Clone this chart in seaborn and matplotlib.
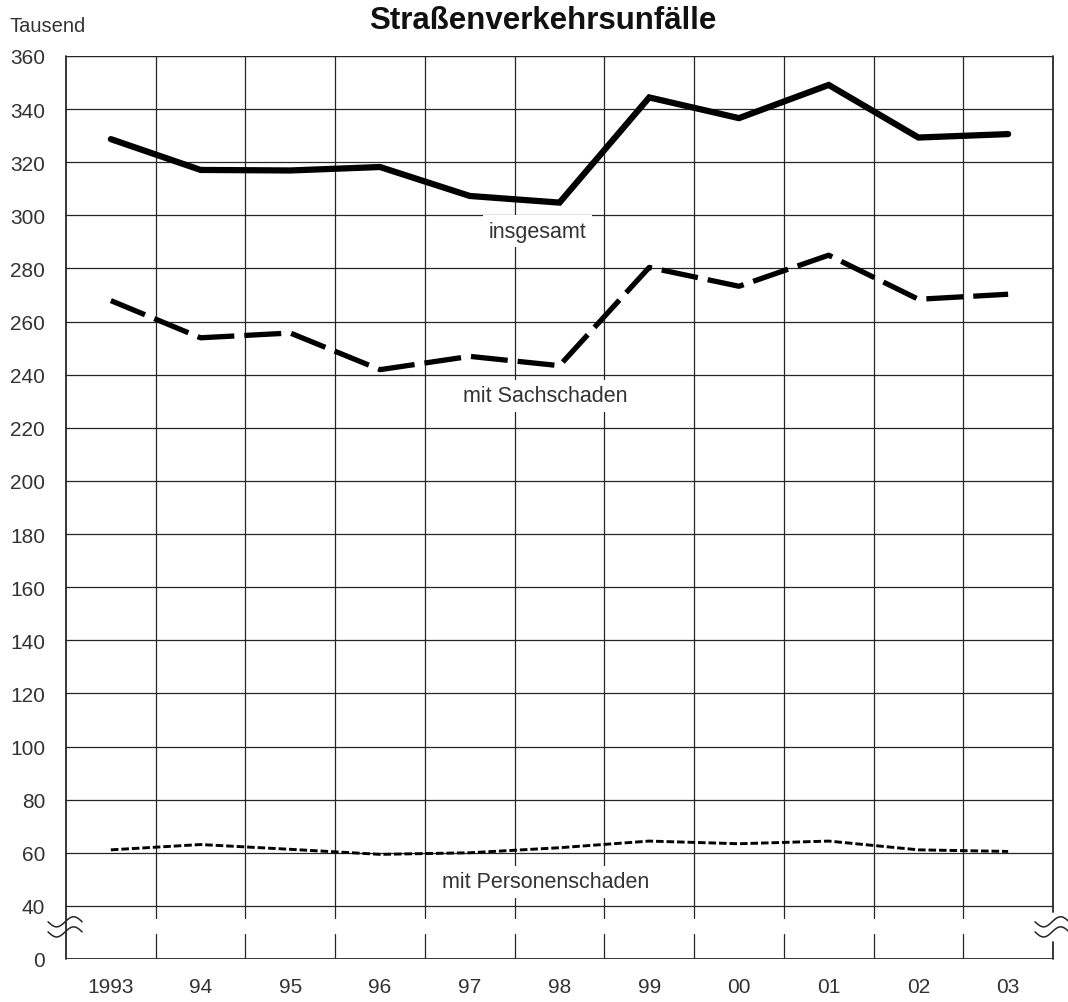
import numpy as np
import pandas as pd
import matplotlib
matplotlib.use("Agg")
import matplotlib.pyplot as plt
import seaborn as sns

# data (Tausend)
years = ['1993', '94', '95', '96', '97', '98', '99', '00', '01', '02', '03']
insgesamt = [328.7, 317.1, 316.9, 318.2, 307.3, 304.8, 344.4, 336.6, 349.1, 329.3, 330.6]
sachschaden = [267.9, 253.9, 255.7, 241.9, 246.9, 243.4, 280.4, 273.3, 285.0, 268.4, 270.3]
personenschaden = [61.1, 63.1, 61.3, 59.4, 60.0, 61.9, 64.4, 63.4, 64.4, 61.1, 60.5]
ytick_values = [0] + list(range(40, 361, 20))

BREAK = 20  # 0..40 is squeezed into the lower 20 units


def to_plot(v):
    v = np.asarray(v, dtype=float)
    return np.where(v >= 40, v - BREAK, v * 0)


sns.set_style("white")
plt.rcParams['font.family'] = ['Liberation Sans', 'DejaVu Sans']

fig = plt.figure(figsize=(10.68, 10.03), dpi=100)
ax = fig.add_axes([66 / 1068, 1 - 960 / 1003, 987 / 1068, 903 / 1003])

x = np.arange(len(years))
df = pd.DataFrame({'x': x,
                   'insgesamt': to_plot(insgesamt),
                   'sach': to_plot(sachschaden),
                   'personen': to_plot(personenschaden)})

ax.set_xlim(-0.5, len(years) - 0.5)
ax.set_ylim(0, 340)

# grid
gcol = '#262626'
for v in ytick_values[1:]:
    ax.axhline(to_plot(v), color=gcol, lw=0.9, zorder=1)
gap_lo, gap_hi = 9.4, 15.4
for xb in np.arange(0.5, len(years) - 1, 1.0):
    ax.plot([xb, xb], [0, gap_lo], color=gcol, lw=0.9, zorder=1)
    ax.plot([xb, xb], [gap_hi, 340], color=gcol, lw=0.9, zorder=1)

# spines with break on the right side
for s in ax.spines.values():
    s.set_visible(False)
ax.axhline(0, color=gcol, lw=1.3, zorder=2)
ax.axhline(340, color=gcol, lw=0.9, zorder=2)
ax.plot([-0.5, -0.5], [0, 340], color=gcol, lw=1.3, zorder=2, clip_on=False)
ax.plot([10.5, 10.5], [0, 6.4], color=gcol, lw=1.3, zorder=2, clip_on=False)
ax.plot([10.5, 10.5], [17.7, 340], color=gcol, lw=1.3, zorder=2, clip_on=False)

# break marks
t = np.linspace(0, 1, 60)
for x0 in (-0.70, 10.30):
    for y0 in (14.0, 10.2):
        ax.plot(x0 + 0.38 * t, y0 - 1.9 * np.sin(2 * np.pi * t), color=gcol,
                lw=1.1, clip_on=False, zorder=3)

# series
sns.lineplot(data=df, x='x', y='insgesamt', ax=ax, color='black', lw=4.5,
             solid_joinstyle='miter', zorder=4)
sns.lineplot(data=df, x='x', y='sach', ax=ax, color='black', lw=3.8,
             linestyle=(0, (7.0, 1.9)), zorder=4)
sns.lineplot(data=df, x='x', y='personen', ax=ax, color='black', lw=2.1,
             linestyle=(0, (2.6, 1.0)), zorder=4)

# labels
lab_kw = dict(ha='center', va='center', fontsize=15.5, color='#333333', zorder=5,
              bbox=dict(facecolor='white', edgecolor='none', pad=4))
ax.text(4.75, to_plot(294.0), 'insgesamt', **lab_kw)
ax.text(4.84, to_plot(232.0), 'mit Sachschaden', **lab_kw)
ax.text(4.84, to_plot(49.0), 'mit Personenschaden', **lab_kw)

# ticks
ax.set_xticks(x)
ax.set_xticklabels(years)
ax.set_yticks(to_plot(ytick_values))
ax.set_yticklabels([str(v) for v in ytick_values])
ax.tick_params(axis='both', length=0, labelsize=15, labelcolor='#333333')
ax.tick_params(axis='y', pad=15)
ax.tick_params(axis='x', pad=13)
ax.set_xlabel('')
ax.set_ylabel('')

fig.text(10 / 1068, 1 - 27 / 1003, 'Tausend', ha='left', va='center',
         fontsize=14.5, color='#333333')
fig.text(543 / 1068, 1 - 21 / 1003, 'Straßenverkehrsunfälle', ha='center',
         va='center', fontsize=22.5, fontweight='bold', color='#111111')

fig.savefig('out.png', dpi=100)
